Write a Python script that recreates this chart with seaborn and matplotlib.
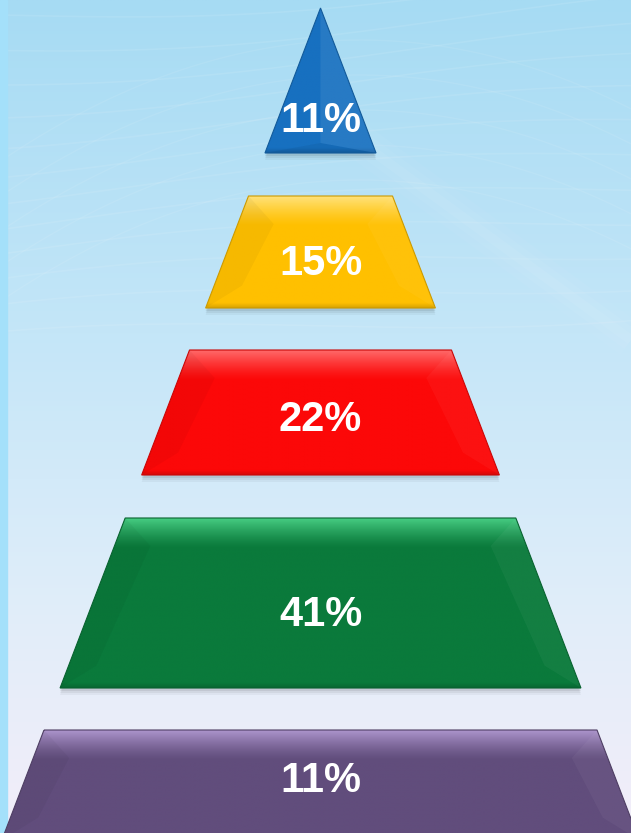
import numpy as np
import matplotlib
matplotlib.use("Agg")
import matplotlib.pyplot as plt
import seaborn as sns
from matplotlib.patches import Polygon
from matplotlib.colors import to_rgb

# ---- data ----
levels = ["Level 1", "Level 2", "Level 3", "Level 4", "Level 5"]
values = [11, 15, 22, 41, 11]
labels = [f"{v}%" for v in values]
base_colors = ["#1770c0", "#ffc000", "#fc0808", "#0a7a3b", "#614d7c"]
light_colors = ["#3a8bd3", "#ffe27a", "#ff6a6a", "#46cc82", "#ac94cc"]

# ---- layout (pixel-like data coordinates) ----
W, H = 631, 833
cx, apex_y, slope = 320.5, 8, 0.383
layer_top = [8, 196, 350, 518, 730]
layer_bot = [153, 308, 475, 688, 840]
label_frac = [0.78, 0.61, 0.56, 0.57, 0.5]

sns.set_theme(style="white")
plt.rcParams['font.family'] = ['Liberation Sans', 'DejaVu Sans']

fig = plt.figure(figsize=(6.31, 8.33), dpi=100)
ax = fig.add_axes([0, 0, 1, 1])

# background gradient
stops_p = [0.0, 0.4, 0.75, 1.0]
stops_c = [to_rgb(c) for c in ['#a6dbf3', '#c4e6f8', '#e2eefa', '#f3edf9']]
yy = np.linspace(0, 1, 400)
bg = np.stack([np.interp(yy, stops_p, [c[k] for c in stops_c]) for k in range(3)], axis=-1)
bg = np.repeat(bg[:, None, :], 2, axis=1)
ax.imshow(bg, extent=(0, W, H, 0), aspect='auto', zorder=0, interpolation='bilinear')

# faint sweeping lines
xs = np.linspace(0, W, 300)
for k in range(12):
    y = 15 + 30 * k + 14 * np.sin(xs / 170 + k * 0.4) - 0.06 * xs
    ax.plot(xs, y, color='white', alpha=0.09, lw=1.2, zorder=1)
for k in range(5):
    y = 40 + 35 * k + 0.3 * (xs - 360) ** 2 / 320
    ax.plot(xs, y, color='white', alpha=0.08, lw=1.0, zorder=1)
for lw, a in [(26, 0.03), (16, 0.04), (7, 0.05)]:
    ax.plot([330, 631], [120, 340], color='white', alpha=a, lw=lw, zorder=1,
            solid_capstyle='butt')

ax.axvspan(0, 7, color='#a4e0fa', zorder=1.5)

def blend(c1, c2, w):
    c1 = np.array(to_rgb(c1)); c2 = np.array(to_rgb(c2))
    return c1 * (1 - w) + c2 * w

for i, lab in enumerate(labels):
    top, bot = layer_top[i], layer_bot[i]
    ht = slope * (top - apex_y)
    hb = slope * (bot - apex_y)
    verts = [(cx - ht, top), (cx + ht, top), (cx + hb, bot), (cx - hb, bot)]

    # soft drop shadow
    for off, a in [(7, 0.04), (5, 0.05), (3, 0.07)]:
        sv = [(x, y + off) for x, y in verts]
        ax.add_patch(Polygon(sv, closed=True, facecolor='black', alpha=a,
                             edgecolor='none', zorder=2))

    poly = Polygon(verts, closed=True, facecolor='none', edgecolor='none', zorder=3)
    ax.add_patch(poly)

    # vertical gradient body
    n = 200
    t = np.linspace(0, bot - top, n)
    band = 30
    w_top = np.clip(1 - t / band, 0, 1) ** 1.3 if i > 0 else np.zeros(n)
    body = np.array([blend(base_colors[i], light_colors[i], w) for w in w_top])
    dark = np.clip((t - (bot - top - 5)) / 5, 0, 1) * 0.15
    body = body * (1 - dark[:, None])
    img = np.repeat(body[:, None, :], 2, axis=1)
    im = ax.imshow(img, extent=(cx - hb, cx + hb, bot, top), aspect='auto',
                   zorder=3, interpolation='bilinear')
    im.set_clip_path(poly)

    # bevel facets
    if i == 0:
        ax.add_patch(Polygon([(cx, top), (cx + hb, bot), (cx, bot - 10)], closed=True,
                             facecolor='white', alpha=0.07, edgecolor='none', zorder=4))
        ax.add_patch(Polygon([(cx - hb, bot), (cx, bot - 10), (cx + hb, bot)], closed=True,
                             facecolor='black', alpha=0.05, edgecolor='none', zorder=4))
    else:
        d = 28
        lf = [(cx - ht, top), (cx - ht + d * 0.9, top + d), (cx - hb + d * 1.3, bot - d * 0.8), (cx - hb, bot)]
        rf = [(cx + ht, top), (cx + ht - d * 0.9, top + d), (cx + hb - d * 1.3, bot - d * 0.8), (cx + hb, bot)]
        ax.add_patch(Polygon(lf, closed=True, facecolor='black', alpha=0.035,
                             edgecolor='none', zorder=4))
        ax.add_patch(Polygon(rf, closed=True, facecolor='white', alpha=0.04,
                             edgecolor='none', zorder=4))
    ax.add_patch(Polygon(verts, closed=True, facecolor='none',
                         edgecolor=tuple(blend(base_colors[i], '#000000', 0.2)),
                         lw=0.8, zorder=4))

    ly = top + label_frac[i] * (bot - top) if i < 4 else top + label_frac[i] * (833 - top)
    ax.text(cx, ly, lab, ha='center', va='center', color='white',
            fontsize=30, fontweight='bold', zorder=6)

ax.set_xlim(0, W)
ax.set_ylim(H, 0)
ax.axis('off')
fig.savefig('out.png', dpi=100)
